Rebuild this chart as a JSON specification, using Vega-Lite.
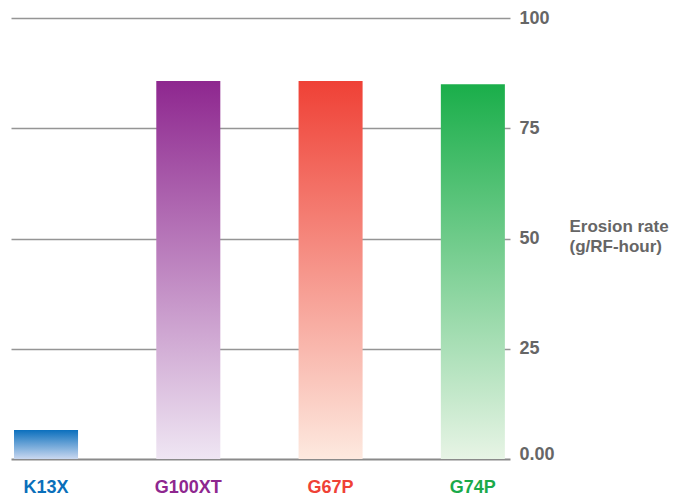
{
  "$schema": "https://vega.github.io/schema/vega-lite/v6.json",
  "width": 499,
  "height": 441,
  "autosize": {"type": "none"},
  "padding": {"left": 11, "top": 18, "right": 183, "bottom": 40},
  "background": "white",
  "config": {
    "view": {"stroke": null},
    "font": "Liberation Sans"
  },
  "data": {
    "values": [
      {"grade": "K13X", "rate": 6.6},
      {"grade": "G100XT", "rate": 85.7},
      {"grade": "G67P", "rate": 85.7},
      {"grade": "G74P", "rate": 85.0}
    ]
  },
  "encoding": {
    "x": {
      "field": "grade",
      "type": "nominal",
      "sort": null,
      "scale": {
        "domain": ["K13X", "G100XT", "G67P", "G74P"],
        "paddingInner": 0.55,
        "paddingOuter": 0.0286,
        "align": 0.37
      },
      "axis": {
        "title": null,
        "orient": "bottom",
        "domain": false,
        "ticks": false,
        "grid": false,
        "labelAngle": 0,
        "labelPadding": 19,
        "labelFont": "Liberation Sans",
        "labelFontSize": 18,
        "labelFontWeight": "bold",
        "labelColor": {
          "condition": [
            {"test": "datum.value === 'K13X'", "value": "#0a6fba"},
            {"test": "datum.value === 'G100XT'", "value": "#8e278f"},
            {"test": "datum.value === 'G67P'", "value": "#ef4136"}
          ],
          "value": "#1aaa4a"
        }
      }
    },
    "y": {
      "field": "rate",
      "type": "quantitative",
      "scale": {"domain": [0, 100], "nice": false, "zero": true},
      "axis": {
        "orient": "right",
        "values": [0, 25, 50, 75, 100],
        "labelExpr": "datum.value === 0 ? '0.00' : datum.label",
        "domain": false,
        "ticks": false,
        "grid": true,
        "gridColor": {
          "condition": {"test": "datum.value === 0", "value": "#8a8a8a"},
          "value": "#959595"
        },
        "gridWidth": {
          "condition": {"test": "datum.value === 0", "value": 2},
          "value": 1.5
        },
        "zindex": 0,
        "labelPadding": 9,
        "labelFont": "Liberation Sans",
        "labelFontSize": 18,
        "labelFontWeight": "bold",
        "labelColor": "#666666",
        "labelBaseline": {
          "condition": {"test": "datum.value === 0", "value": "alphabetic"},
          "value": "middle"
        },
        "title": ["Erosion rate", "(g/RF-hour)"],
        "titleAngle": 0,
        "titleAlign": "left",
        "titleBaseline": "top",
        "titleX": 59,
        "titleY": 200,
        "titleFont": "Liberation Sans",
        "titleFontSize": 17,
        "titleFontWeight": "bold",
        "titleColor": "#666666",
        "titleLineHeight": 20
      }
    }
  },
  "layer": [
    {
      "transform": [{"filter": "datum.grade === 'K13X'"}],
      "mark": {
        "type": "bar",
        "color": {
          "gradient": "linear",
          "x1": 0, "y1": 0, "x2": 0, "y2": 1,
          "stops": [
            {"offset": 0, "color": "#0a6fbd"},
            {"offset": 1, "color": "#cad8f0"}
          ]
        }
      }
    },
    {
      "transform": [{"filter": "datum.grade === 'G100XT'"}],
      "mark": {
        "type": "bar",
        "color": {
          "gradient": "linear",
          "x1": 0, "y1": 0, "x2": 0, "y2": 1,
          "stops": [
            {"offset": 0, "color": "#8e278f"},
            {"offset": 1, "color": "#efe6f3"}
          ]
        }
      }
    },
    {
      "transform": [{"filter": "datum.grade === 'G67P'"}],
      "mark": {
        "type": "bar",
        "color": {
          "gradient": "linear",
          "x1": 0, "y1": 0, "x2": 0, "y2": 1,
          "stops": [
            {"offset": 0, "color": "#ef4136"},
            {"offset": 1, "color": "#fde9df"}
          ]
        }
      }
    },
    {
      "transform": [{"filter": "datum.grade === 'G74P'"}],
      "mark": {
        "type": "bar",
        "color": {
          "gradient": "linear",
          "x1": 0, "y1": 0, "x2": 0, "y2": 1,
          "stops": [
            {"offset": 0, "color": "#1aae4a"},
            {"offset": 1, "color": "#e7f4e5"}
          ]
        }
      }
    }
  ]
}
